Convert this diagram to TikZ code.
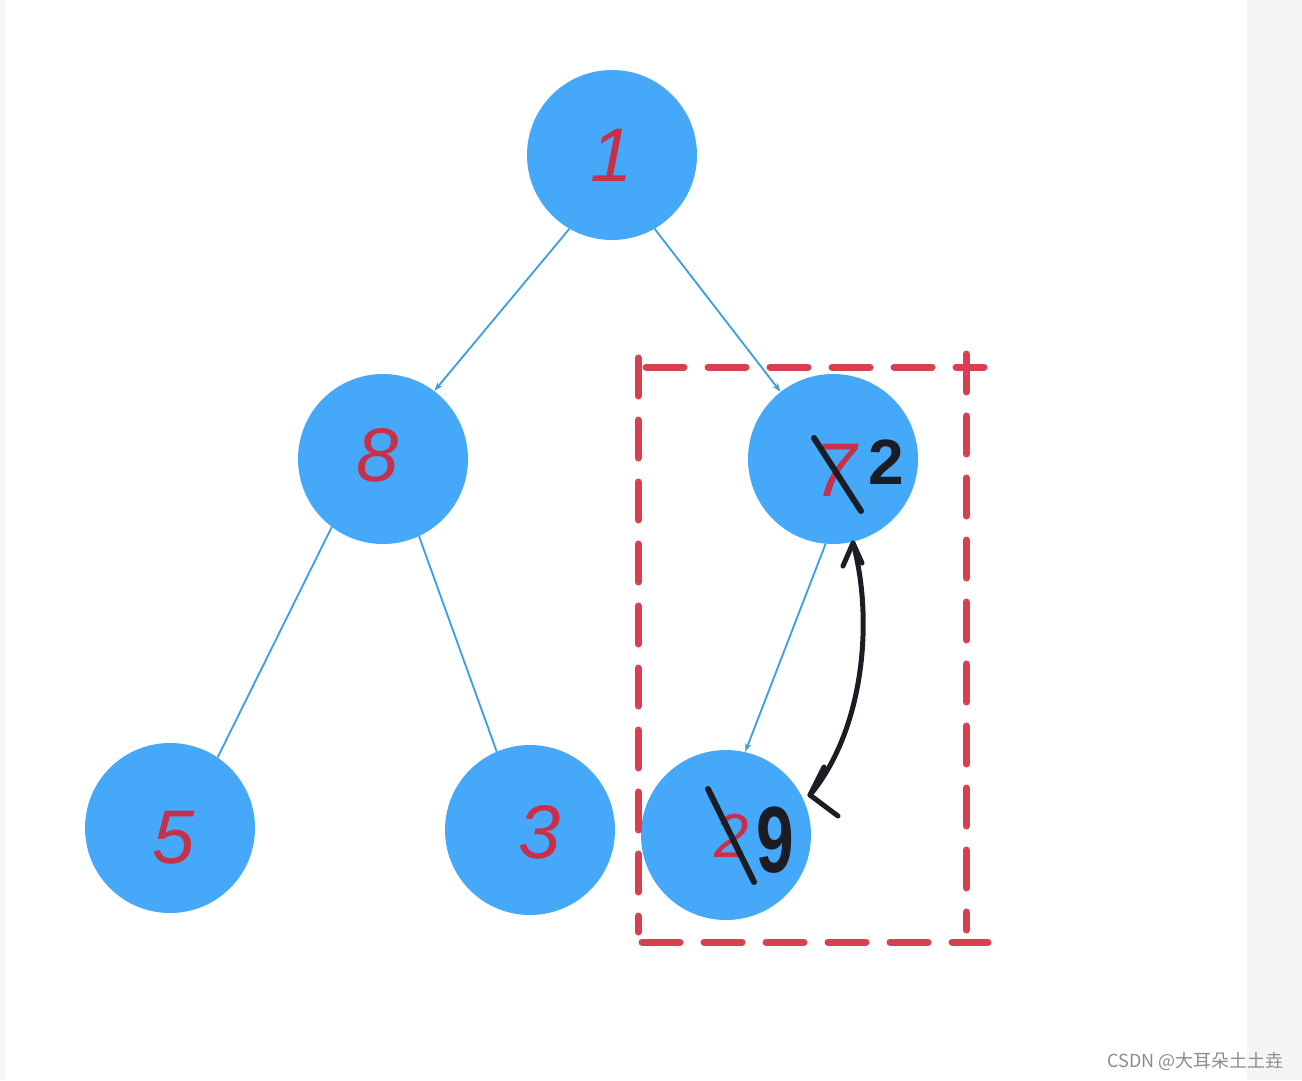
\documentclass[tikz,border=0pt]{standalone}
\usepackage{fontspec}
\setmainfont{Liberation Sans}
\newfontfamily\cjk{Noto Sans CJK SC}
\usetikzlibrary{arrows.meta}
\definecolor{nodeblue}{HTML}{45A8F8}
\definecolor{edgeblue}{HTML}{3A9DE8}
\definecolor{digred}{HTML}{C8304A}
\definecolor{boxred}{HTML}{D9404F}
\definecolor{pen}{HTML}{1C1C24}
\definecolor{bggray}{HTML}{F5F5F5}
\tikzset{
  treenode/.style={circle, fill=nodeblue, minimum size=170pt, inner sep=0pt},
  digit/.style={font=\fontsize{76}{76}\selectfont\itshape, text=digred},
  inkdigit/.style={font=\fontsize{72}{72}\selectfont\bfseries, text=pen},
  edge/.style={draw=edgeblue, line width=1.8pt, -{Stealth[length=9pt,width=6pt]}},
  plainedge/.style={draw=edgeblue, line width=1.8pt},
  boxline/.style={draw=boxred, line width=7pt, line cap=round, dash pattern=on 38pt off 24pt},
  ink/.style={draw=pen, line width=6pt, line cap=round, line join=round},
}
\begin{document}
\begin{tikzpicture}[x=1pt,y=-1pt]
\useasboundingbox (0,0) rectangle (1302,1080);
\fill[white] (0,0) rectangle (1302,1080);
\fill[bggray] (0,0) rectangle (5,1080);
\fill[bggray] (1247,0) rectangle (1302,1080);

% tree nodes
\node[treenode] (n1) at (612,155) {};
\node[treenode] (n8) at (383,459) {};
\node[treenode] (n7) at (833,459) {};
\node[treenode] (n5) at (170,828) {};
\node[treenode] (n3) at (530,830) {};
\node[treenode] (n2) at (726,835) {};

% digits
\node[digit] (t1) at (612,155) {1};
\node[digit] (t8) at (378,455) {8};
\node[digit] (t5) at (174,838) {5};
\node[digit] (t3) at (540,832) {3};
\node[digit] (t7) at (836,470) {7};
\node[digit, font=\fontsize{62}{62}\selectfont\itshape] (t2r) at (732,836) {2};

% ink corrections
\coordinate (s1a) at (814,438);
\coordinate (s1b) at (861,511);
\draw[ink] (s1a) -- (s1b);
\node[inkdigit, font=\fontsize{64}{64}\selectfont\bfseries] (b2) at (886,462) {2};
\coordinate (s2a) at (708,789);
\coordinate (s2b) at (754,882);
\draw[ink] (s2a) -- (s2b);
\node[inkdigit, font=\fontsize{94}{94}\selectfont\bfseries, xscale=0.72] (b9) at (775,840) {9};

% edges
\draw[edge] (n1.240) -- (n8.53);
\draw[edge] (n1.300) -- (n7.128);
\draw[plainedge] (n8.233) -- (n5.56);
\draw[plainedge] (n8.295) -- (n3.113);
\draw[edge] (n7.265) -- (n2.77);

% dashed red box
\coordinate (bl1) at (638,358);
\coordinate (bl2) at (638,932);
\coordinate (bt1) at (646,367);
\coordinate (bt2) at (984,367);
\coordinate (br1) at (966,354);
\coordinate (br2) at (966,930);
\coordinate (bb1) at (642,942);
\coordinate (bb2) at (988,942);
\draw[boxline] (bl1) -- (bl2);
\draw[boxline] (bt1) -- (bt2);
\draw[boxline] (br1) -- (br2);
\draw[boxline] (bb1) -- (bb2);

% swap arrow
\coordinate (sa) at (853,543);
\coordinate (sb) at (810,795);
\draw[ink, line width=5pt] (sa) .. controls (874,620) and (864,730) .. (sb);
\draw[ink, line width=5pt] (843,566) -- (sa) -- (862,563);
\draw[ink, line width=5pt] (824,767) -- (sb) -- (838,816);

% watermark
\node[font=\cjk\fontsize{18}{18}\selectfont, text=black!45, anchor=east] (wm) at (1287,1061) {CSDN @大耳朵土土垚};
\end{tikzpicture}
\end{document}
